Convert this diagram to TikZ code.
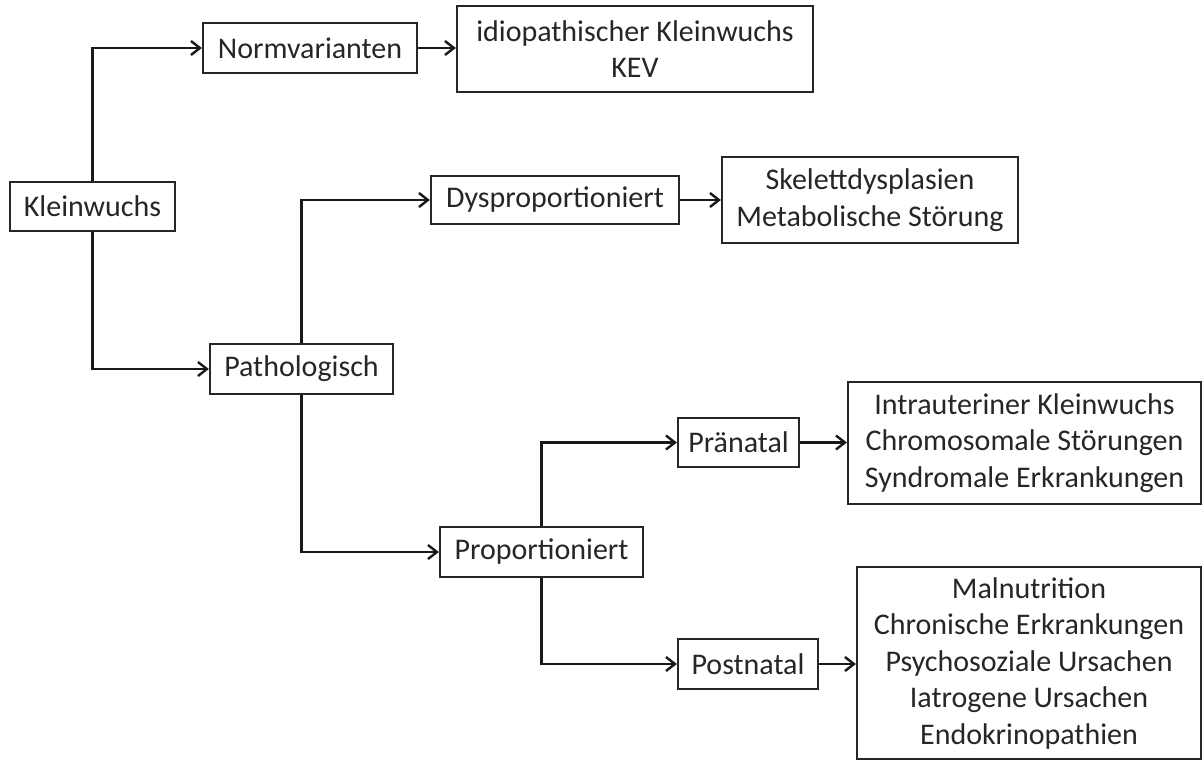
\documentclass[tikz,border=0pt]{standalone}
\usepackage{fontspec}
\setmainfont{Carlito}
\usetikzlibrary{arrows.meta}
\begin{document}
\begin{tikzpicture}[x=1pt,y=-1pt,
  box/.style={draw=black!85,line width=2.2pt,inner sep=0pt,align=center,
    font=\fontsize{30}{36.5}\selectfont,text=black!85},
  arr/.style={draw=black!90,line width=2.2pt,-{Straight Barb[length=9pt,width=14pt,line width=2.4pt]}}]
\useasboundingbox (0,0) rectangle (1204,761);
\node[box,minimum width=165pt,minimum height=49pt] (klein) at (92.5,206.5) {Kleinwuchs};
\node[box,minimum width=214pt,minimum height=50pt] (norm) at (310,48) {Normvarianten};
\node[box,minimum width=356pt,minimum height=86pt] (idio) at (635,49) {idiopathischer Kleinwuchs\\KEV};
\node[box,minimum width=183pt,minimum height=50pt] (path) at (301.5,369) {Pathologisch};
\node[box,minimum width=248pt,minimum height=48pt] (dys) at (555,200) {Dysproportioniert};
\node[box,minimum width=296pt,minimum height=86pt] (skel) at (870,200) {Skelettdysplasien\\Metabolische Störung};
\node[box,minimum width=203pt,minimum height=50pt] (prop) at (541.5,552) {Proportioniert};
\node[box,minimum width=121pt,minimum height=49pt] (pra) at (738.5,442.5) {Pränatal};
\node[box,minimum width=140pt,minimum height=50pt] (post) at (748,664) {Postnatal};
\node[box,minimum width=353pt,minimum height=122pt] (intra) at (1024.5,443) {Intrauteriner Kleinwuchs\\Chromosomale Störungen\\Syndromale Erkrankungen};
\node[box,minimum width=344pt,minimum height=192pt] (mal) at (1029,663) {Malnutrition\\Chronische Erkrankungen\\Psychosoziale Ursachen\\Iatrogene Ursachen\\Endokrinopathien};
\draw[arr] (klein.north) |- (norm.west);
\draw[arr] (klein.south) |- (path.west);
\draw[arr] (norm.east) -- (norm.east -| idio.west);
\draw[arr] (path.north) |- (dys.west);
\draw[arr] (path.south) |- (prop.west);
\draw[arr] (dys.east) -- (skel.west);
\draw[arr] (prop.north) |- (pra.west);
\draw[arr] (prop.south) |- (post.west);
\draw[arr] (pra.east) -- (pra.east -| intra.west);
\draw[arr] (post.east) -- (post.east -| mal.west);
\end{tikzpicture}
\end{document}
